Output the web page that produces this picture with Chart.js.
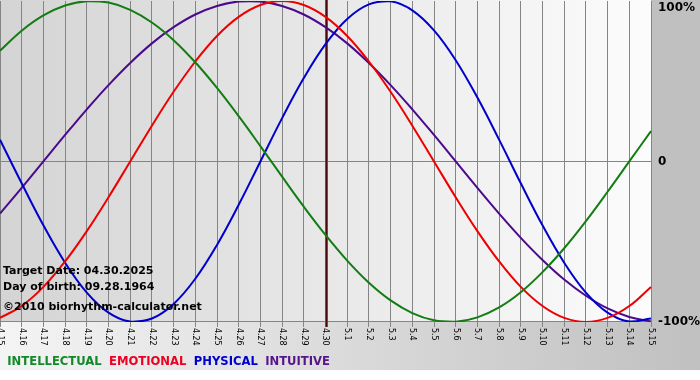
<!DOCTYPE html>
<html>
<head>
<meta charset="utf-8">
<script src="https://cdn.jsdelivr.net/npm/chart.js@4/dist/chart.umd.min.js"></script>
<style>
  html, body { margin: 0; padding: 0; background: #ffffff; }
  #wrap { width: 700px; height: 380px; position: relative; }
</style>
</head>
<body>
<div id="wrap"><canvas id="c" width="700" height="380"></canvas></div>
<script>
// ---- Data ----
const days = ['4.15','4.16','4.17','4.18','4.19','4.20','4.21','4.22','4.23','4.24','4.25','4.26','4.27','4.28','4.29','4.30',
              '5.1','5.2','5.3','5.4','5.5','5.6','5.7','5.8','5.9','5.10','5.11','5.12','5.13','5.14','5.15'];
const intellectual = [69.0, 81.5, 91.0, 97.2, 99.9, 99.0, 94.5, 86.6, 75.6, 61.8, 45.8, 28.2, 9.5, -9.5, -28.2, -45.8,
                      -61.8, -75.6, -86.6, -94.5, -99.0, -99.9, -97.2, -91.0, -81.5, -69.0, -54.1, -37.2, -18.9, 0, 18.9];
const emotional = [-97.5, -90.1, -78.2, -62.3, -43.4, -22.3, 0, 22.3, 43.4, 62.3, 78.2, 90.1, 97.5, 100, 97.5, 90.1,
                   78.2, 62.3, 43.4, 22.3, 0, -22.3, -43.4, -62.3, -78.2, -90.1, -97.5, -100, -97.5, -90.1, -78.2];
const physical = [13.6, -13.6, -39.8, -63.1, -81.7, -94.2, -99.8, -97.9, -88.8, -73.1, -52.0, -27.0, 0, 27.0, 52.0, 73.1,
                  88.8, 97.9, 99.8, 94.2, 81.7, 63.1, 39.8, 13.6, -13.6, -39.8, -63.1, -81.7, -94.2, -99.8, -97.9];
const intuitive = [-32.5, -16.5, 0, 16.5, 32.5, 47.6, 61.4, 73.6, 83.7, 91.6, 96.9, 99.7, 99.7, 96.9, 91.6, 83.7,
                   73.6, 61.4, 47.6, 32.5, 16.5, 0, -16.5, -32.5, -47.6, -61.4, -73.6, -83.7, -91.6, -96.9, -99.7];
const seriesNames = ['INTELLECTUAL', 'EMOTIONAL', 'PHYSICAL', 'INTUITIVE'];
const yTicks = [-100, 0, 100];
const yTickLabels = ['-100%', '0', '100%'];
const targetDay = '4.30';
const infoLines = ['Target Date: 04.30.2025', 'Day of birth: 09.28.1964', '\u00A92010 biorhythm-calculator.net'];

// ---- Styles ----
const lineColors = ['#137d13', '#ee0000', '#0000cc', '#4b0a8c'];
const legendColors = ['#128a2a', '#ee0022', '#0000cc', '#55168a'];

const bgPlugin = {
  id: 'bg',
  beforeDraw(chart) {
    const { ctx, chartArea: a, width, height } = chart;
    ctx.save();
    ctx.fillStyle = '#ffffff';
    ctx.fillRect(0, 0, width, height);
    let g = ctx.createLinearGradient(a.left, 0, a.right, 0);
    g.addColorStop(0, '#d4d4d4');
    g.addColorStop(1, '#fcfcfc');
    ctx.fillStyle = g;
    ctx.fillRect(a.left, a.top - 1, a.right - a.left, a.bottom - a.top + 1);
    g = ctx.createLinearGradient(0, 0, width, 0);
    g.addColorStop(0, '#f4f4f4');
    g.addColorStop(1, '#c0c0c0');
    ctx.fillStyle = g;
    ctx.fillRect(0, a.bottom, width, 370 - a.bottom);
    ctx.fillStyle = '#c0c0c0';
    ctx.fillRect(a.right, 0, width - a.right, a.bottom);
    ctx.restore();
  }
};

const overlayPlugin = {
  id: 'overlay',
  beforeDatasetsDraw(chart) {
    const { ctx, chartArea: a } = chart;
    const xs = chart.scales.x;
    const x = Math.round(xs.getPixelForValue(days.indexOf(targetDay))) + 0.5;
    ctx.save();
    ctx.strokeStyle = '#a03838';
    ctx.lineWidth = 3;
    ctx.beginPath(); ctx.moveTo(x, a.top - 1); ctx.lineTo(x, a.bottom + 5); ctx.stroke();
    ctx.strokeStyle = '#4a0808';
    ctx.lineWidth = 1;
    ctx.beginPath(); ctx.moveTo(x, a.top - 1); ctx.lineTo(x, a.bottom + 5); ctx.stroke();
    ctx.restore();
  },
  afterDatasetsDraw(chart) {
    const { ctx, chartArea: a } = chart;
    ctx.save();
    ctx.fillStyle = '#000000';
    ctx.font = 'bold 11px "DejaVu Sans"';
    ctx.textBaseline = 'middle';
    ctx.textAlign = 'left';
    ctx.fillText(infoLines[0], 3, 271);
    ctx.fillText(infoLines[1], 3, 287);
    ctx.fillText(infoLines[2], 3, 307);
    const xs = chart.scales.x;
    ctx.font = '8px "DejaVu Sans"';
    xs.ticks.forEach((t, i) => {
      const px = xs.getPixelForTick(i);
      ctx.save();
      ctx.translate(px, a.bottom + 6);
      ctx.rotate(Math.PI / 2);
      ctx.textAlign = 'left';
      ctx.textBaseline = 'middle';
      ctx.fillText(xs.getLabelForValue(t.value), 0, 0);
      ctx.restore();
    });
    ctx.restore();
  }
};

const datasets = [intellectual, emotional, physical, intuitive].map((d, i) => ({
  label: seriesNames[i],
  data: d,
  borderColor: lineColors[i],
  backgroundColor: lineColors[i],
  borderWidth: 2,
  pointRadius: 0,
  tension: 0.4,
  fill: false
}));

new Chart(document.getElementById('c'), {
  type: 'line',
  data: { labels: days, datasets },
  plugins: [bgPlugin, overlayPlugin],
  options: {
    responsive: false,
    animation: false,
    events: [],
    layout: { padding: { top: 1, left: 0, right: 0, bottom: 2 } },
    plugins: {
      tooltip: { enabled: false },
      legend: {
        position: 'bottom',
        align: 'start',
        labels: {
          boxWidth: 0,
          boxHeight: 0,
          padding: 1.5,
          font: { family: '"DejaVu Sans"', size: 11.6, weight: 'bold' },
          generateLabels(chart) {
            return chart.data.datasets.map((ds, i) => ({
              text: ds.label,
              fontColor: legendColors[i],
              fillStyle: 'transparent',
              strokeStyle: 'transparent',
              lineWidth: 0,
              hidden: false,
              datasetIndex: i
            }));
          }
        }
      }
    },
    scales: {
      x: {
        type: 'category',
        offset: false,
        grid: { color: '#858585', lineWidth: 1, tickLength: 5, drawTicks: true },
        border: { display: true, color: '#858585' },
        ticks: { display: false, autoSkip: false },
        afterFit(s) { s.height = 33; s.paddingLeft = 0; s.paddingRight = 0; }
      },
      y: {
        position: 'right',
        min: -100,
        max: 100,
        afterBuildTicks(s) { s.ticks = yTicks.map(v => ({ value: v })); },
        grid: {
          drawTicks: false,
          color: (c) => (c.tick && c.tick.value === 0 ? '#858585' : 'transparent')
        },
        border: { display: false },
        ticks: {
          padding: 7,
          color: '#000000',
          font: { family: '"DejaVu Sans"', size: 12, weight: 'bold' },
          callback: (v) => {
            const lab = yTickLabels[yTicks.indexOf(v)];
            return v === 100 ? ['', lab] : lab;
          }
        },
        afterFit(s) { s.width = 49; s.paddingTop = 0; s.paddingBottom = 0; }
      }
    }
  }
});
</script>
</body>
</html>
